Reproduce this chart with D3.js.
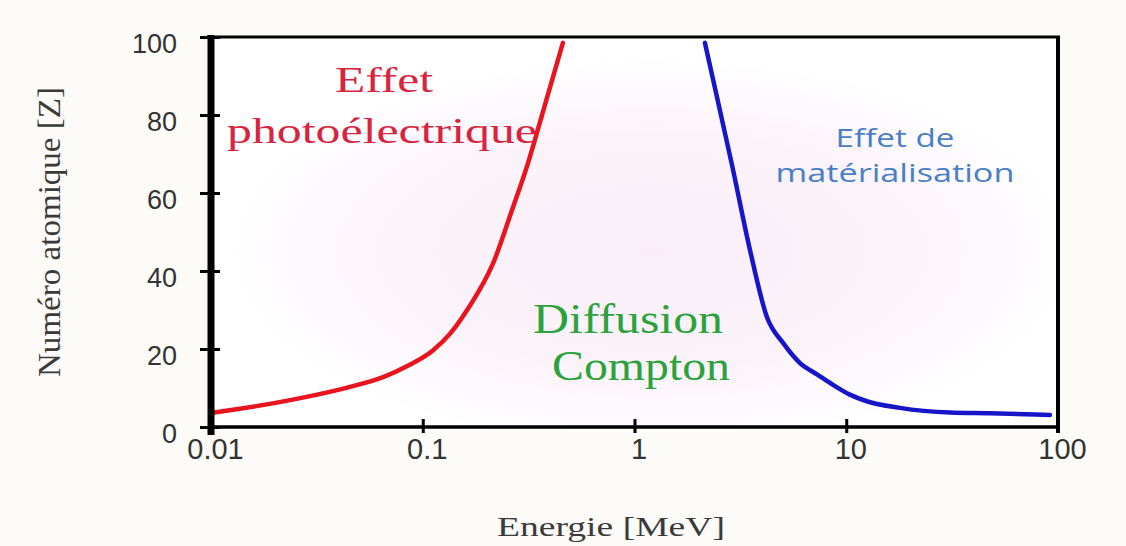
<!DOCTYPE html>
<html><head><meta charset="utf-8">
<script src="https://cdn.jsdelivr.net/npm/d3@7"></script>
<style>body{margin:0;background:#fdfbf7}svg{display:block}</style>
</head><body>
<svg id="c" width="1126" height="546"></svg>
<script>
// Data (Energy MeV, Z)
const photoE = [0.01, 0.0127, 0.0264, 0.0454, 0.065, 0.085, 0.112, 0.135, 0.162, 0.215, 0.267, 0.31, 0.346, 0.386, 0.459];
const photoZ = [3.6, 4.4, 7.4, 10.3, 12.8, 15.7, 19.7, 24, 30, 42, 56.4, 66.7, 75.4, 84.4, 98.5];
const pairE = [2.15, 2.37, 2.9, 3.51, 4.22, 5.04, 6.05, 7.28, 8.66, 10.4, 12.5, 17.9, 30.9, 47.7, 91.6];
const pairZ = [98.5, 88.2, 66.7, 45.4, 28.2, 21.5, 16.4, 13.5, 10.8, 8.3, 6.6, 4.9, 3.7, 3.5, 3.1];
const xTicks = [0.01, 0.1, 1, 10, 100];
const xTickLabels = ["0.01", "0.1", "1", "10", "100"];
const yTicks = [0, 20, 40, 60, 80, 100];

const svg = d3.select("#c");
const L = 211, R = 1058, T = 37, B = 427;
const x = d3.scaleLog().domain([0.01, 100]).range([L, R]);
const y = d3.scaleLinear().domain([0, 100]).range([B, T]);

svg.append("rect").attr("width",1126).attr("height",546).attr("fill","#fdfbf7");
const defs = svg.append("defs");
const g1 = defs.append("radialGradient").attr("id","pk").attr("cx","0.52").attr("cy","0.55").attr("r","0.5");
g1.append("stop").attr("offset","0%").attr("stop-color","#f9eef8");
g1.append("stop").attr("offset","60%").attr("stop-color","#fbf3fa");
g1.append("stop").attr("offset","100%").attr("stop-color","#ffffff");
svg.append("rect").attr("x",L).attr("y",T).attr("width",R-L).attr("height",B-T).attr("fill","url(#pk)");

// frame
svg.append("line").attr("x1",L-4).attr("x2",R+2).attr("y1",T).attr("y2",T).attr("stroke","#000").attr("stroke-width",3);
svg.append("line").attr("x1",R).attr("x2",R).attr("y1",T-1).attr("y2",B+6).attr("stroke","#000").attr("stroke-width",4);

// curves
const line = d3.line().x(d=>x(d[0])).y(d=>y(d[1])).curve(d3.curveMonotoneX);
svg.append("path").datum(photoE.map((e,i)=>[e,photoZ[i]])).attr("d",line)
  .attr("fill","none").attr("stroke","#e8141e").attr("stroke-width",4.5).attr("stroke-linecap","round");
svg.append("path").datum(pairE.map((e,i)=>[e,pairZ[i]])).attr("d",line)
  .attr("fill","none").attr("stroke","#1616c8").attr("stroke-width",4.5).attr("stroke-linecap","round");

// x axis
const xa = svg.append("g").attr("transform",`translate(0,${B})`)
  .call(d3.axisBottom(x).tickValues(xTicks).tickFormat((d,i)=>xTickLabels[i]).tickSize(6).tickPadding(26));
xa.select(".domain").attr("stroke","#000").attr("stroke-width",3.5).attr("d",`M${L},0H${R}`);
xa.selectAll(".tick line").attr("y1",-8).attr("y2",6).attr("stroke","#000").attr("stroke-width",3);
xa.selectAll(".tick text").attr("font-family","'Liberation Sans', Arial, sans-serif").attr("font-size",29)
  .attr("fill","#333").attr("dx",4).attr("dy",0);

// y axis
const ya = svg.append("g").attr("transform",`translate(${L},0)`)
  .call(d3.axisLeft(y).tickValues(yTicks).tickSize(10).tickPadding(24));
ya.select(".domain").attr("stroke","#000").attr("stroke-width",7).attr("d",`M0,${T-2}V${B+8}`);
ya.selectAll(".tick line").attr("x1",-11).attr("x2",9).attr("stroke","#000").attr("stroke-width",3);
ya.selectAll(".tick text").attr("font-family","'Liberation Sans', Arial, sans-serif").attr("font-size",27)
  .attr("fill","#333").attr("dy","0.58em").attr("x",-34);

// labels
const serif = "'Liberation Serif', 'Times New Roman', serif";
function txt(s, cx, by, size, color, len, fam){
  return svg.append("text").attr("x",cx).attr("y",by).attr("text-anchor","middle")
    .attr("font-family",fam).attr("font-size",size).attr("fill",color)
    .attr("textLength",len).attr("lengthAdjust","spacingAndGlyphs").text(s);
}
txt("Effet", 384, 92, 36, "#d8243e", 98, serif);
txt("photoélectrique", 382, 143, 36, "#d8243e", 310, serif);
txt("Diffusion", 628, 333, 42, "#2ca23c", 190, serif);
txt("Compton", 641, 380, 42, "#2ca23c", 178, serif);
const sans = "'Open Sans', 'Noto Sans', sans-serif";
txt("Effet de", 895, 147, 25, "#4a7ec6", 119, sans);
txt("matérialisation", 895, 182, 25, "#4a7ec6", 239, sans);
txt("Energie [MeV]", 611, 536, 27, "#3a3a3a", 228, serif);
svg.append("text").attr("transform","translate(60,232) rotate(-90)").attr("text-anchor","middle")
  .attr("font-family",serif).attr("font-size",31).attr("fill","#3a3a3a")
  .attr("textLength",290).attr("lengthAdjust","spacingAndGlyphs").text("Numéro atomique [Z]");
</script>
</body></html>
